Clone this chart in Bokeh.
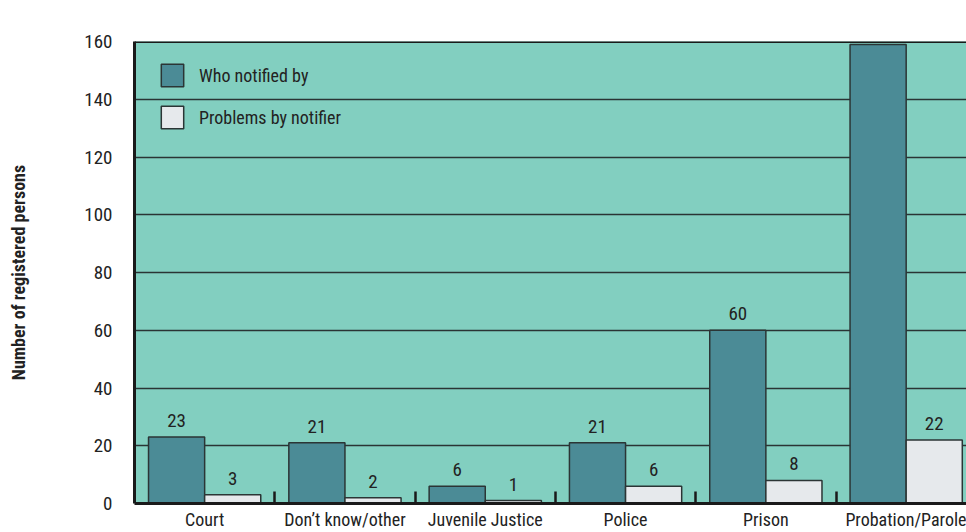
from bokeh.plotting import figure
from bokeh.models import ColumnDataSource, FixedTicker, LabelSet, Legend, LegendItem, Span
from bokeh.core.properties import value
from bokeh.embed import file_html
from bokeh.resources import INLINE

# Registered persons by notifying agency
categories = ["Court", "Don\u2019t know/other", "Juvenile Justice", "Police", "Prison", "Probation/Parole"]
who_notified = [23, 21, 6, 21, 60, 159]
problems_by_notifier = [3, 2, 1, 6, 8, 22]
y_ticks = [0, 20, 40, 60, 80, 100, 120, 140, 160]

FONT = "Roboto Condensed"
NUM_SIZE = "19px"
WORD_SIZE = "18px"
BG = "#82cfc0"
DARK = "#4b8b96"
LIGHT = "#e6e9ec"
EDGE = "#2b3535"
TEXT = "#222222"

n = len(categories)
idx = list(range(n))
centers = [i + 0.5 for i in idx]

src = ColumnDataSource(dict(
    x_dark=[i + 0.3 for i in idx],
    x_light=[i + 0.7 for i in idx],
    who=who_notified,
    prob=problems_by_notifier,
    who_txt=[str(v) for v in who_notified],
    prob_txt=[str(v) for v in problems_by_notifier],
))

p = figure(width=966, height=532, x_range=(0, 5.93), y_range=(0, 160),
           output_backend="svg", toolbar_location=None,
           min_border_left=134, min_border_right=0, min_border_top=41, min_border_bottom=29)
p.background_fill_color = BG
p.border_fill_color = "white"
p.outline_line_color = None

# grid
p.xgrid.grid_line_color = None
p.ygrid.ticker = FixedTicker(ticks=y_ticks)
p.ygrid.grid_line_color = "#2a3434"
p.ygrid.grid_line_width = 1.5

# y axis
p.yaxis.ticker = FixedTicker(ticks=y_ticks)
p.yaxis.axis_line_width = 3
p.yaxis.axis_line_color = "#1a1a1a"
p.yaxis.major_tick_line_color = None
p.yaxis.minor_tick_line_color = None
p.yaxis.major_label_standoff = 16
p.yaxis.major_label_text_font = FONT
p.yaxis.major_label_text_font_size = NUM_SIZE
p.yaxis.major_label_text_color = TEXT
p.yaxis.axis_label = "Number of registered persons"
p.yaxis.axis_label_standoff = 52
p.yaxis.axis_label_text_font = FONT
p.yaxis.axis_label_text_font_size = "18px"
p.yaxis.axis_label_text_font_style = "bold"
p.yaxis.axis_label_text_color = TEXT

# x axis: category names at group centres, separators between groups
p.xaxis.ticker = FixedTicker(ticks=centers, minor_ticks=[1, 2, 3, 4, 5])
p.xaxis.major_label_overrides = {c: name for c, name in zip(centers, categories)}
p.xaxis.axis_line_width = 3
p.xaxis.axis_line_color = "#1a1a1a"
p.xaxis.major_tick_line_color = None
p.xaxis.major_tick_in = 0
p.xaxis.major_tick_out = 0
p.xaxis.minor_tick_in = 12
p.xaxis.minor_tick_out = 0
p.xaxis.minor_tick_line_width = 2.5
p.xaxis.minor_tick_line_color = "#1a1a1a"
p.xaxis.major_label_text_font = FONT
p.xaxis.major_label_text_font_size = WORD_SIZE
p.xaxis.major_label_text_color = TEXT
p.xaxis.major_label_standoff = 5

# top border of the plot area
p.add_layout(Span(location=160, dimension="width", line_color="#1a1a1a", line_width=3))

r_who = p.vbar(x="x_dark", top="who", width=0.4, source=src,
               fill_color=DARK, line_color=EDGE, line_width=1.5)
r_prob = p.vbar(x="x_light", top="prob", width=0.4, source=src,
                fill_color=LIGHT, line_color=EDGE, line_width=1.5)

lbl_kw = dict(text_font=value(FONT), text_font_size=NUM_SIZE, text_color=TEXT,
              text_align="center", text_baseline="alphabetic")
p.add_layout(LabelSet(x="x_dark", y="who", text="who_txt", y_offset=10, source=src, **lbl_kw))
p.add_layout(LabelSet(x="x_light", y="prob", text="prob_txt", y_offset=10, source=src, **lbl_kw))

legend = Legend(items=[LegendItem(label="Who notified by", renderers=[r_who]),
                       LegendItem(label="Problems by notifier", renderers=[r_prob])],
                location=(24, 372), orientation="vertical",
                glyph_width=28, glyph_height=28, label_standoff=13, spacing=14,
                padding=0, margin=0, border_line_color=None, background_fill_alpha=0,
                label_text_font=FONT, label_text_font_size=WORD_SIZE, label_text_color=TEXT)
p.add_layout(legend)

open("out.html", "w").write(file_html(p, INLINE))
